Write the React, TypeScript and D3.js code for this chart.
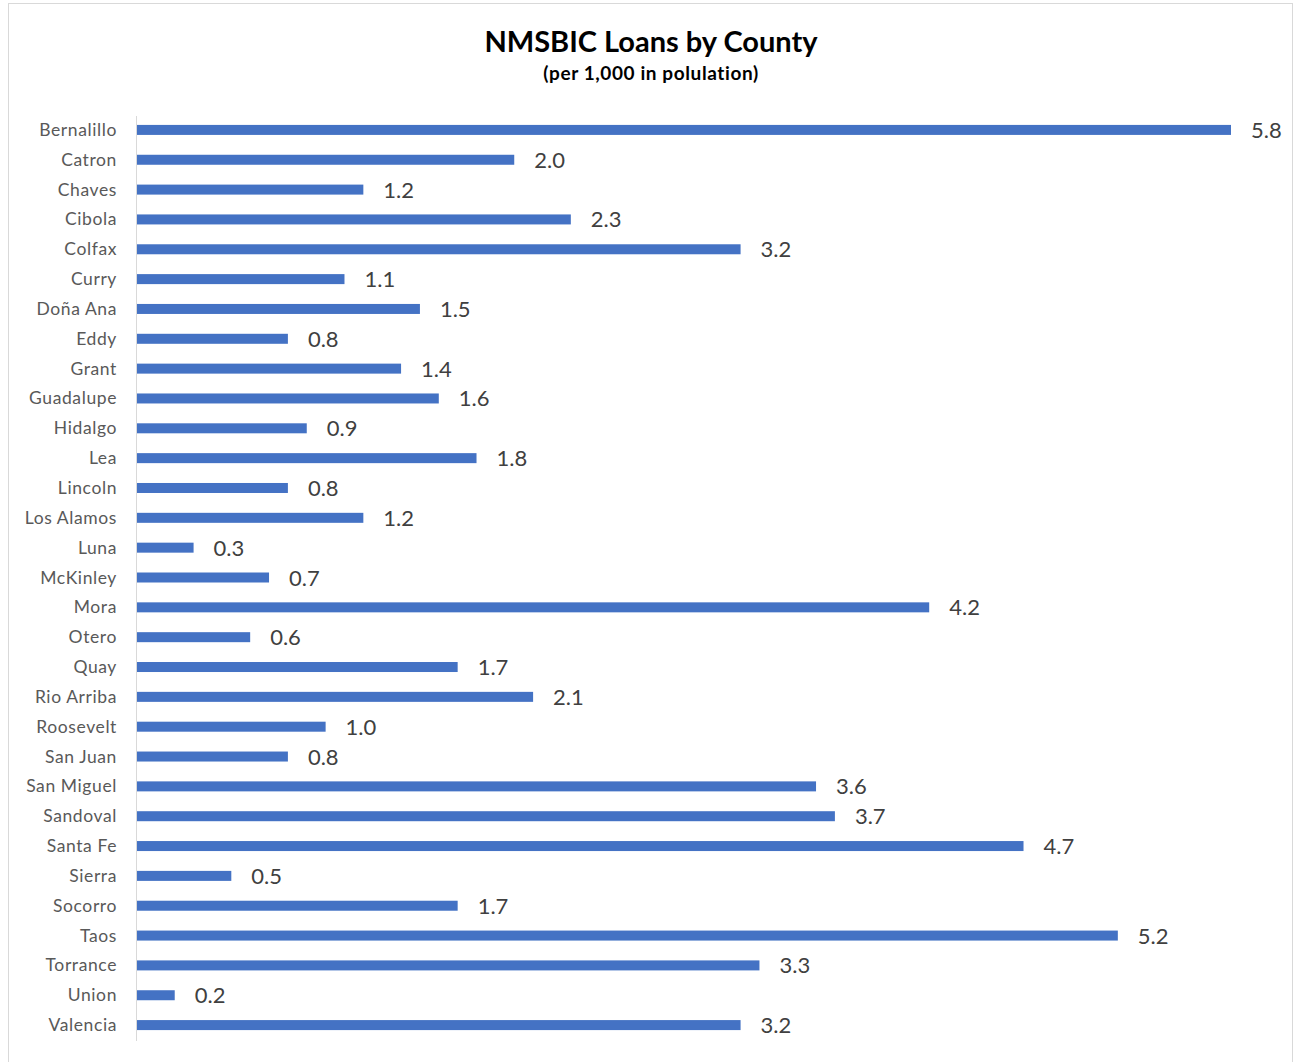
import { useEffect } from "react"
import * as d3 from "d3"

const counties = [
  "Bernalillo", "Catron", "Chaves", "Cibola", "Colfax", "Curry", "Doña Ana", "Eddy",
  "Grant", "Guadalupe", "Hidalgo", "Lea", "Lincoln", "Los Alamos", "Luna", "McKinley",
  "Mora", "Otero", "Quay", "Rio Arriba", "Roosevelt", "San Juan", "San Miguel", "Sandoval",
  "Santa Fe", "Sierra", "Socorro", "Taos", "Torrance", "Union", "Valencia",
]

const loansPer1000 = [
  5.8, 2.0, 1.2, 2.3, 3.2, 1.1, 1.5, 0.8,
  1.4, 1.6, 0.9, 1.8, 0.8, 1.2, 0.3, 0.7,
  4.2, 0.6, 1.7, 2.1, 1.0, 0.8, 3.6, 3.7,
  4.7, 0.5, 1.7, 5.2, 3.3, 0.2, 3.2,
]

const title = "NMSBIC Loans by County"
const subtitle = "(per 1,000 in polulation)"

const W = 1297
const H = 1062
const font = "Lato, 'Open Sans', sans-serif"

export default function App() {
  useEffect(() => {
    document.body.style.margin = "0"
  }, [])

  const data = counties.map((name, i) => ({ name, value: loansPer1000[i] }))

  const x = d3.scaleLinear().domain([0, 5.8]).range([137, 1231])
  const y = d3.scaleBand().domain(counties).range([115, 1040]).padding(0)
  const barH = 10

  return (
    <svg width={W} height={H} style={{ display: "block", background: "#fff" }}>
      <rect x={8.5} y={3.5} width={1284} height={1062} fill="#fff" stroke="#d9d9d9" />

      <text x={651} y={52} textAnchor="middle" fontFamily={font} fontWeight={700} fontSize={29} fill="#000">
        {title}
      </text>
      <text x={651} y={80} textAnchor="middle" fontFamily={font} fontWeight={700} fontSize={19} fill="#000" letterSpacing={0.6}>
        {subtitle}
      </text>

      {/* bars */}
      {data.map((d) => {
        const cy = (y(d.name) || 0) + y.bandwidth() / 2
        return (
          <g key={d.name}>
            <rect x={x(0)} y={cy - barH / 2} width={x(d.value) - x(0)} height={barH} fill="#4472c4" />
            <text x={x(d.value) + 20} y={cy + 8} fontFamily={font} fontSize={22} fill="#404040">
              {d.value.toFixed(1)}
            </text>
            <text x={117} y={cy + 6} textAnchor="end" fontFamily={font} fontSize={17.5} fill="#595959" letterSpacing={0.6}>
              {d.name}
            </text>
          </g>
        )
      })}

      {/* category axis line */}
      <line x1={136.5} x2={136.5} y1={116} y2={1041} stroke="#d9d9d9" />
    </svg>
  )
}
